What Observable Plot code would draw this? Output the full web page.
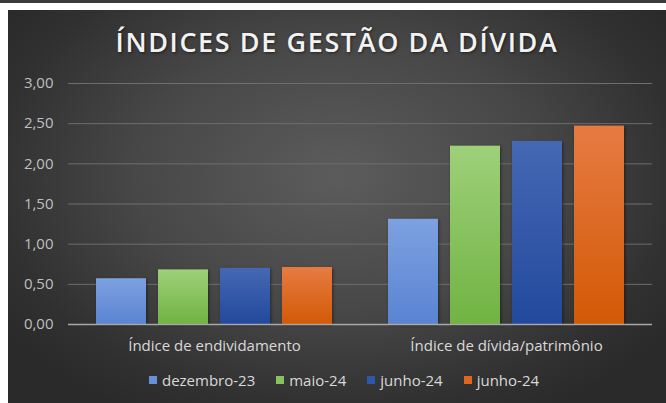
<!DOCTYPE html>
<html><head><meta charset="utf-8">
<script src="https://cdn.jsdelivr.net/npm/d3@7"></script>
<script src="https://cdn.jsdelivr.net/npm/@observablehq/plot@0.6"></script>
<style>
html,body{margin:0;padding:0;background:#fff;width:666px;height:403px;overflow:hidden;}
#strip{position:absolute;left:0;top:0;width:666px;height:3px;background:#3a3a3a;}
#chart{position:absolute;left:8px;top:10px;width:658px;height:393px;overflow:hidden;
  background:radial-gradient(ellipse 62% 70% at 50% 42%, #5c5c5c 0%, #474747 50%, #303030 85%, #2a2a2a 100%);
  font-family:"Open Sans",sans-serif;}
#title{position:absolute;left:0;top:18px;width:100%;text-align:center;font-size:27px;line-height:27px;
  font-weight:600;letter-spacing:1.6px;color:#f2f2f2;text-shadow:1px 1px 3px rgba(0,0,0,0.55);}
#plot{position:absolute;left:0;top:60px;}
#legend{position:absolute;left:0;top:361px;width:100%;height:18px;display:flex;justify-content:center;
  align-items:center;font-size:15px;color:#d9d9d9;line-height:18px;padding-left:14px;box-sizing:border-box;}
.li{display:flex;align-items:center;margin:0 10.5px;}
.sw{width:8px;height:8px;margin-right:5px;}
</style></head>
<body>
<div id="strip"></div>
<div id="chart">
  <div id="title">ÍNDICES DE GESTÃO DA DÍVIDA</div>
  <div id="plot"></div>
  <div id="legend"></div>
</div>
<script>
const categories = ["Índice de endividamento", "Índice de dívida/patrimônio"];
const seriesLabels = ["dezembro-23", "maio-24", "junho-24", "junho-24"];
const dez23 = [0.57, 1.31];
const mai24 = [0.68, 2.22];
const jun24a = [0.70, 2.28];
const jun24b = [0.71, 2.47];
const yTicks = [0, 0.5, 1, 1.5, 2, 2.5, 3];

const seriesValues = [dez23, mai24, jun24a, jun24b];
const seriesKeys = seriesLabels.map((d, i) => "s" + i);
const gradTop = ["#7da1e1", "#9ed07a", "#4668b3", "#e67b42"];
const gradBot = ["#5a84d2", "#71b343", "#22499d", "#d35906"];
const swatch = ["#6690d8", "#86c35e", "#3058a8", "#e0661e"];

const data = [];
categories.forEach((c, ci) => seriesValues.forEach((vals, si) =>
  data.push({category: c, series: seriesKeys[si], value: vals[ci]})));

const plot = Plot.plot({
  width: 658, height: 300,
  marginTop: 13, marginBottom: 46, marginLeft: 59, marginRight: 14,
  style: {background: "transparent", fontFamily: "Open Sans, sans-serif", fontSize: "15px", color: "#bfbfbf", overflow: "visible"},
  fx: {domain: categories, padding: 0, label: null},
  x: {domain: seriesKeys, paddingInner: 0.19, paddingOuter: 0.44, axis: null},
  y: {domain: [0, 3], label: null},
  color: {domain: seriesKeys, range: seriesKeys.map((d, i) => `url(#grad${i})`)},
  marks: [
    Plot.gridY(yTicks, {stroke: "#6e6e6e", strokeOpacity: 1, strokeWidth: 1}),
    Plot.barY(data, {fx: "category", x: "series", y: "value", fill: "series"}),
    Plot.ruleY([0], {stroke: "#a8a8a8", strokeWidth: 1.5}),
    Plot.axisY(yTicks, {tickSize: 0, tickPadding: 15, label: null, fill: "#bfbfbf",
      tickFormat: d => d.toFixed(2).replace(".", ",")}),
    Plot.axisFx({anchor: "bottom", tickSize: 0, tickPadding: 16, label: null, fill: "#d9d9d9"})
  ]
});

const defs = d3.select(plot).insert("defs", ":first-child");
seriesKeys.forEach((k, i) => {
  const g = defs.append("linearGradient").attr("id", "grad" + i)
    .attr("x1", 0).attr("y1", 0).attr("x2", 0).attr("y2", 1);
  g.append("stop").attr("offset", "0%").attr("stop-color", gradTop[i]);
  g.append("stop").attr("offset", "100%").attr("stop-color", gradBot[i]);
});
d3.select(plot).selectAll("rect").style("filter", "drop-shadow(1px 1px 1.5px rgba(0,0,0,0.45))");
document.getElementById("plot").appendChild(plot);

const legend = d3.select("#legend");
seriesLabels.forEach((lab, i) => {
  const it = legend.append("div").attr("class", "li");
  it.append("div").attr("class", "sw").style("background", swatch[i]);
  it.append("span").text(lab);
});
</script>
</body></html>
